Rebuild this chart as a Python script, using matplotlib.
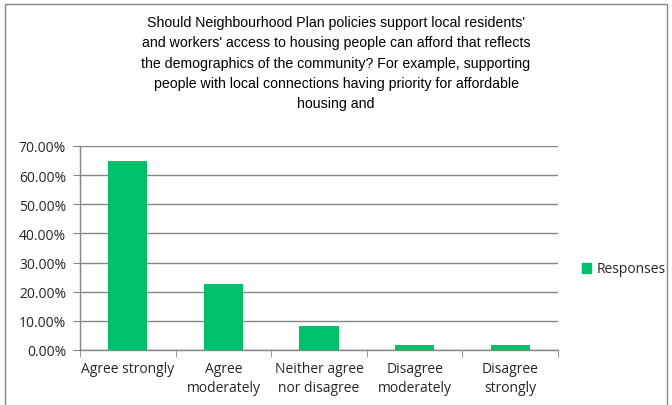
import matplotlib
matplotlib.use("Agg")
import matplotlib.pyplot as plt
import matplotlib.patches as mpatches
import numpy as np
from matplotlib.ticker import FuncFormatter, FixedLocator

TITLE = ("Should Neighbourhood Plan policies support local residents'\n"
         "and workers' access to housing people can afford that reflects\n"
         "the demographics of the community? For example, supporting\n"
         "people with local connections having priority for affordable\n"
         "housing and")
CATEGORIES = ["Agree strongly", "Agree\nmoderately", "Neither agree\nnor disagree",
              "Disagree\nmoderately", "Disagree\nstrongly"]
RESPONSES = [0.65, 0.226, 0.081, 0.018, 0.018]
SERIES = "Responses"

GREEN = "#00C06B"
GRID = "#868686"
TXT = "#262626"

fig = plt.figure(figsize=(6.72, 4.06), dpi=100)
fig.patch.set_facecolor("white")

# outer chart border
fig.patches.append(mpatches.Rectangle((5 / 672, -0.05), 662 / 672, 1.05 - 5 / 406,
                                      transform=fig.transFigure, fill=False,
                                      edgecolor="#868686", linewidth=1.0))

fig.text(0.5, 1 - 16 / 406, TITLE, ha="center", va="top", fontsize=10.2,
         family="Liberation Sans", color="black", linespacing=1.57)

ax = fig.add_axes([80 / 672, 55 / 406, 478 / 672, 204 / 406])
x = np.arange(len(CATEGORIES))
ax.bar(x, RESPONSES, width=0.41, color=GREEN, zorder=3, label=SERIES)

ax.set_xlim(-0.5, len(CATEGORIES) - 0.5)
ax.set_ylim(0, 0.70)
ax.set_yticks(np.arange(0, 0.701, 0.10))
ax.yaxis.set_major_formatter(FuncFormatter(lambda v, p: f"{v * 100:.2f}%"))
ax.yaxis.grid(True, color=GRID, linewidth=1.0, zorder=0)

ax.set_xticks(x)
ax.set_xticklabels(CATEGORIES, fontsize=10, family="Open Sans", color=TXT, linespacing=1.35)
ax.xaxis.set_minor_locator(FixedLocator(np.arange(-0.5, len(CATEGORIES), 1.0)))
ax.tick_params(axis="x", which="major", length=0, pad=8)
ax.tick_params(axis="x", which="minor", length=5, color=GRID, direction="out")
ax.tick_params(axis="y", length=5, color=GRID, direction="out", pad=5, labelsize=10,
               labelcolor=TXT)
for lbl in ax.get_yticklabels():
    lbl.set_family("Open Sans")

for s in ["top", "right"]:
    ax.spines[s].set_visible(False)
for s in ["left", "bottom"]:
    ax.spines[s].set_color(GRID)
    ax.spines[s].set_linewidth(1.0)

fig.legend(handles=[mpatches.Patch(color=GREEN, label=SERIES)], loc="center left",
           bbox_to_anchor=(569 / 672, 1 - 270 / 406), frameon=False,
           prop={"family": "Open Sans", "size": 10}, handlelength=0.7,
           handleheight=0.7, handletextpad=0.4, labelcolor=TXT)

fig.savefig("out.png", dpi=100)
